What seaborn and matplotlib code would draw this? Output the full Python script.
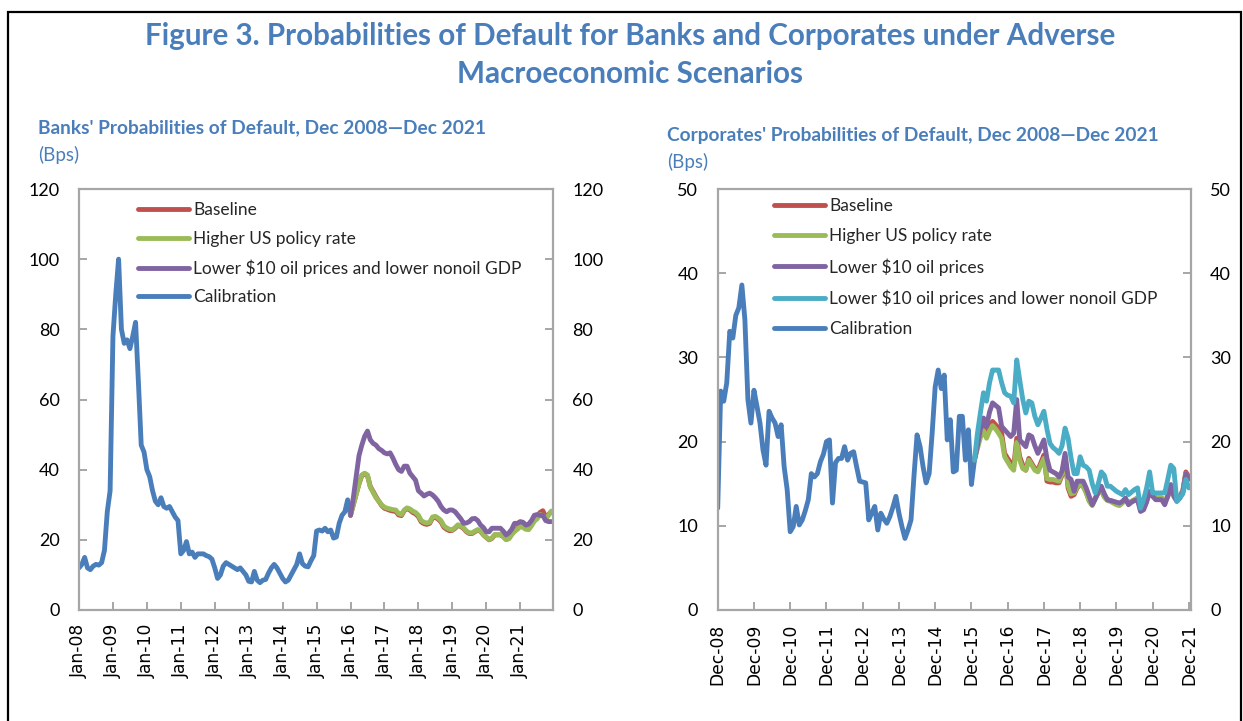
import numpy as np
import pandas as pd
import seaborn as sns
import matplotlib.pyplot as plt
from matplotlib.lines import Line2D
from matplotlib.patches import Rectangle

sns.set_theme(style="white")
plt.rcParams['font.family'] = ['Lato', 'DejaVu Sans']

# ---------------- Banks (monthly, Jan-2008 .. Dec-2021) ----------------
bank_x_labels = ["Jan-08", "Jan-09", "Jan-10", "Jan-11", "Jan-12", "Jan-13", "Jan-14",
                 "Jan-15", "Jan-16", "Jan-17", "Jan-18", "Jan-19", "Jan-20", "Jan-21"]

# Calibration: Jan-2008 .. Jan-2016
bank_calibration = [12, 13, 15, 12, 11.5, 12.5, 13, 12.8, 13.5, 17, 28, 34,
                    78, 90, 100, 80, 76, 77, 74.5, 78, 82, 65, 47, 45,
                    40, 38, 34, 31, 30, 32, 29.5, 29, 29.5, 28, 26.5, 25.5,
                    16, 17, 19.5, 16, 16.5, 15, 16, 16, 16, 15.5, 15.2, 14.5,
                    12, 9, 10, 12.5, 13.5, 13, 12.5, 12, 11.5, 12, 11, 10,
                    8.2, 8, 11, 8.5, 7.8, 8.5, 8.7, 10.5, 12, 13, 12, 10.5,
                    9, 8, 8.5, 10, 11.5, 13, 16, 13.2, 12.5, 12.3, 14, 15.5,
                    22.5, 22.8, 22.5, 23.3, 22.3, 22.8, 20.5, 20.8, 24.7, 27, 28, 31.4,
                    27]

# Scenarios: Jan-2016 .. Dec-2021
bank_higher_us = [27, 30, 33, 36, 38.5, 39, 38.5, 35, 33.5, 32, 31, 30,
                  29.3, 29, 28.8, 28.6, 28.5, 27.5, 27.2, 28.5, 29.1, 28.8, 28.2, 27.8,
                  27, 25.5, 25, 24.8, 25, 26.5, 26.7, 26.2, 25.5, 24, 23.4, 23,
                  22.9, 23.5, 24.3, 24, 23.4, 22.5, 22, 22, 22.5, 22.9, 22.5, 21.5,
                  20.8, 20.1, 20.5, 21.5, 21.5, 21.5, 21, 20.1, 20.3, 21.5, 22.4, 23,
                  23.8, 23.5, 23, 22.9, 24, 25.3, 26, 27.2, 27, 25.8, 27, 28.2]
bank_baseline = [27, 30, 33, 36, 38.3, 38.8, 38.3, 35.2, 33.8, 32.3, 31, 29.8,
                 29, 28.7, 28.4, 28.2, 28.1, 27.1, 26.9, 28.3, 28.9, 28.5, 27.8, 27.4,
                 26.6, 25.1, 24.6, 24.4, 24.7, 26.2, 26.4, 25.9, 25.1, 23.6, 23, 22.6,
                 22.7, 23.3, 24.1, 23.8, 23.2, 22.3, 21.8, 21.8, 22.3, 22.8, 22.4, 21.4,
                 20.7, 20, 20.4, 21.4, 21.4, 21.4, 20.9, 20.1, 20.4, 21.6, 22.5, 23.2,
                 24, 23.8, 23.3, 23.2, 24.3, 25.7, 26.6, 27.8, 28.3, 26.5, 27.2, 28]
bank_oil_nonoil = [27, 32, 38, 44, 47, 49.5, 51, 48.5, 47.5, 47, 46, 45.5,
                   44.8, 44.5, 44.8, 43.3, 41.5, 40, 39.5, 41, 41, 39, 38, 37,
                   34, 33.3, 32.5, 33, 33.3, 32.8, 32, 31, 29.5, 28.5, 28, 28.5,
                   28.5, 28, 27, 26, 24.7, 24.8, 25.2, 26, 26.1, 25.5, 24.2, 23.5,
                   22.3, 22.3, 23.3, 23.3, 23.3, 23.3, 22.5, 21.4, 22, 23, 24.7, 24.7,
                   25.2, 25, 24.2, 24.5, 25.5, 27, 27.2, 27, 27, 25.5, 25.2, 25.2]

# ---------------- Corporates (monthly, Dec-2008 .. Dec-2021) ----------------
corp_x_labels = ["Dec-08", "Dec-09", "Dec-10", "Dec-11", "Dec-12", "Dec-13", "Dec-14",
                 "Dec-15", "Dec-16", "Dec-17", "Dec-18", "Dec-19", "Dec-20", "Dec-21"]

# Calibration: Dec-2008 .. Jan-2016
corp_calibration = [12.1, 26, 24.8, 27, 33.1, 32.3, 35, 35.9, 38.6, 34.5, 25, 22.2,
                    26.1, 24.2, 22.2, 19, 17.2, 23.6, 22.8, 22.2, 20.6, 22, 17, 14.3,
                    9.3, 9.9, 12.3, 10.1, 10.7, 11.8, 13.1, 16.2, 15.8, 16.2, 17.6, 18.5,
                    20, 20.2, 12.7, 17.5, 18, 18, 19.4, 17.8, 18.6, 18.8, 17, 15.3,
                    15.2, 15.1, 10.7, 11.5, 12.3, 9.5, 11.5, 10.8, 10.3, 11.1, 12.2, 13.5,
                    11.5, 9.9, 8.5, 9.5, 10.7, 16, 20.8, 19.4, 17, 15.1, 16.2, 21,
                    26.5, 28.5, 26.3, 27.9, 20.2, 22.6, 16.4, 16.6, 23, 23, 17.8, 21.4,
                    14.9, 17.8]

# Scenarios: Jan-2016 .. Dec-2021
corp_baseline = [17.8, 19.5, 21, 21.8, 20.8, 21.8, 22.4, 22, 21.6, 21, 18.6, 18,
                 17.5, 17, 20.4, 18.2, 17.2, 16.6, 18, 17.4, 16.8, 16.6, 17.5, 18.4,
                 15.3, 15.2, 15.2, 15.1, 15.1, 16, 18.2, 14.5, 13.5, 13.7, 14.5, 14.9,
                 14.7, 14, 13, 12.5, 13.3, 14, 14.3, 13.5, 13.1, 13, 12.9, 12.7,
                 12.5, 12.8, 13.1, 12.7, 12.9, 13.1, 13.3, 11.9, 12.1, 13, 14.1, 13.6,
                 13.3, 13.3, 13.3, 12.9, 13.5, 14.7, 13.8, 13.1, 13.5, 14.2, 16.4, 15.8]
corp_higher_us = [17.8, 19.2, 20.5, 21.3, 20.4, 21.3, 21.9, 21.5, 21, 20.4, 18.2, 17.6,
                  17, 16.6, 19.9, 17.8, 16.8, 16.6, 17.8, 17.2, 16.6, 16.4, 17.2, 18,
                  15.6, 15.5, 15.5, 15.4, 15.3, 16.2, 18, 14.8, 13.8, 13.9, 14.6, 14.9,
                  14.7, 13.9, 12.9, 12.4, 13.2, 13.9, 14.2, 13.4, 13, 12.9, 12.7, 12.5,
                  12.4, 12.7, 13.1, 12.7, 12.9, 13.1, 13.3, 12, 12.2, 13.1, 14.1, 13.6,
                  13.3, 13.3, 13.3, 12.9, 13.5, 14.6, 13.7, 13.1, 13.4, 14.1, 16.2, 15.5]
corp_oil = [17.8, 19.5, 21.5, 22.8, 21.8, 23.5, 24.6, 24.3, 24, 21.8, 21.4, 21,
            20.6, 21, 25, 20.2, 19.8, 19.4, 20.8, 20.6, 19.5, 18.6, 19.4, 20.2,
            18, 16.6, 16.4, 16.2, 15.8, 16.5, 18.6, 15.8, 15.5, 14.1, 15.3, 15.3,
            15.3, 14.5, 13.5, 12.5, 13.2, 14, 14.7, 13.8, 13.1, 13, 12.9, 12.8,
            12.7, 12.9, 13.3, 12.5, 12.8, 13, 13.1, 11.7, 11.9, 12.8, 14.1, 13.5,
            13.1, 13.1, 13.1, 12.5, 13.5, 14.9, 13.5, 12.9, 13.3, 14, 16.2, 15.6]
corp_oil_nonoil = [17.8, 21, 23.5, 25.8, 24.8, 27, 28.5, 28.5, 28.5, 27, 25.8, 25.5,
                   25.4, 24.6, 29.7, 27.3, 25, 23.4, 24.8, 24.6, 23, 22, 22.8, 23.6,
                   21.5, 19.8, 19.3, 19, 18.6, 19.5, 21.6, 20.4, 18, 16.2, 16.2, 18.2,
                   17.2, 17, 16.6, 15, 13.9, 15, 16.4, 16, 14.7, 14.7, 14.4, 14.1,
                   13.9, 13.7, 14.3, 13.7, 14, 14.3, 14.5, 12.1, 13.1, 14.5, 16.4, 13.9,
                   13.9, 13.9, 13.9, 13.9, 15.5, 17.2, 16.8, 12.9, 13.3, 13.8, 15.5, 14.5]

# ---------------- Styling ----------------
C_BASE = "#C0504D"
C_HIGH = "#9BBB59"
C_OIL = "#8064A2"
C_OILNON = "#4BACC6"
C_CAL = "#4A7EBB"
TITLE_C = "#4A7EBB"
SPINE_C = "#A6A6A6"
LW = 3.5

fig = plt.figure(figsize=(12.43, 7.21), dpi=100)
fig.patch.set_facecolor("white")

# outer frame
fig.patches.append(Rectangle((8 / 1243, -0.05), (1241 - 8) / 1243, 1.05 - 12 / 721,
                             transform=fig.transFigure, fill=False,
                             edgecolor="black", linewidth=1.6))

fig.text(0.507, 1 - 36 / 721, "Figure 3. Probabilities of Default for Banks and Corporates under Adverse",
         ha="center", va="center", fontsize=21.3, fontweight="bold", color=TITLE_C)
fig.text(0.507, 1 - 74 / 721, "Macroeconomic Scenarios",
         ha="center", va="center", fontsize=21.3, fontweight="bold", color=TITLE_C)

fig.text(38 / 1243, 1 - 128 / 721, "Banks' Probabilities of Default, Dec 2008\u2014Dec 2021",
         ha="left", va="center", fontsize=13.8, fontweight="bold", color=TITLE_C)
fig.text(38 / 1243, 1 - 155 / 721, "(Bps)", ha="left", va="center", fontsize=13.5, color=TITLE_C)
fig.text(667 / 1243, 1 - 136 / 721, "Corporates' Probabilities of Default, Dec 2008\u2014Dec 2021",
         ha="left", va="center", fontsize=13.8, fontweight="bold", color=TITLE_C)
fig.text(667 / 1243, 1 - 162 / 721, "(Bps)", ha="left", va="center", fontsize=13.5, color=TITLE_C)

ax1 = fig.add_axes([79 / 1243, 111 / 721, 474 / 1243, 421 / 721])
ax2 = fig.add_axes([717.7 / 1243, 111 / 721, 473 / 1243, 421 / 721])


def style_axis(ax, ymax, ystep, labels, xmax):
    ax.set_xlim(0, xmax)
    ax.set_ylim(0, ymax)
    ax.set_yticks(np.arange(0, ymax + 1, ystep))
    ax.set_xticks(np.arange(0, 12 * len(labels), 12))
    ax.set_xticklabels(labels, rotation=90, fontsize=12.3,
                       family=["DejaVu Sans"], color="#000000")
    for s in ax.spines.values():
        s.set_color(SPINE_C)
        s.set_linewidth(1.6)
        s.set_visible(True)
    ax.tick_params(axis="y", which="both", direction="in", length=6, width=1.4,
                   color=SPINE_C, left=True, right=True, labelleft=True,
                   labelright=True, labelsize=13, pad=14, labelcolor="#000000")
    ax.tick_params(axis="x", direction="in", length=6, width=1.4, color=SPINE_C,
                   bottom=True, pad=10)
    ax.set_xlabel("")
    ax.set_ylabel("")
    ax.grid(False)
    ax.set_facecolor("white")


# Banks panel
bx_cal = np.arange(0, len(bank_calibration))
bx_sc = np.arange(len(bank_calibration) - 1, len(bank_calibration) - 1 + len(bank_baseline))
sns.lineplot(x=bx_cal, y=bank_calibration, ax=ax1, color=C_CAL, linewidth=LW)
sns.lineplot(x=bx_sc, y=bank_baseline, ax=ax1, color=C_BASE, linewidth=LW)
sns.lineplot(x=bx_sc, y=bank_higher_us, ax=ax1, color=C_HIGH, linewidth=LW)
sns.lineplot(x=bx_sc, y=bank_oil_nonoil, ax=ax1, color=C_OIL, linewidth=LW)
style_axis(ax1, 120, 20, bank_x_labels, 167.6)

h1 = [Line2D([0], [0], color=c, lw=LW, solid_capstyle="round") for c in [C_BASE, C_HIGH, C_OIL, C_CAL]]
ax1.legend(h1, ["Baseline", "Higher US policy rate",
                "Lower $10 oil prices and lower nonoil GDP", "Calibration"],
           loc="upper left", bbox_to_anchor=(0.125, 0.968), frameon=False,
           fontsize=12.5, handlelength=2.9, handletextpad=0.25, labelspacing=0.72,
           borderaxespad=0, borderpad=0)

# Corporates panel
cx_cal = np.arange(0, len(corp_calibration))
cx_sc = np.arange(len(corp_calibration) - 1, len(corp_calibration) - 1 + len(corp_baseline))
sns.lineplot(x=cx_cal, y=corp_calibration, ax=ax2, color=C_CAL, linewidth=LW)
sns.lineplot(x=cx_sc, y=corp_baseline, ax=ax2, color=C_BASE, linewidth=LW)
sns.lineplot(x=cx_sc, y=corp_higher_us, ax=ax2, color=C_HIGH, linewidth=LW)
sns.lineplot(x=cx_sc, y=corp_oil, ax=ax2, color=C_OIL, linewidth=LW)
sns.lineplot(x=cx_sc, y=corp_oil_nonoil, ax=ax2, color=C_OILNON, linewidth=LW)
style_axis(ax2, 50, 10, corp_x_labels, 156.6)

h2 = [Line2D([0], [0], color=c, lw=LW, solid_capstyle="round")
      for c in [C_BASE, C_HIGH, C_OIL, C_OILNON, C_CAL]]
ax2.legend(h2, ["Baseline", "Higher US policy rate", "Lower $10 oil prices",
                "Lower $10 oil prices and lower nonoil GDP", "Calibration"],
           loc="upper left", bbox_to_anchor=(0.12, 0.978), frameon=False,
           fontsize=12.5, handlelength=2.9, handletextpad=0.25, labelspacing=0.8,
           borderaxespad=0, borderpad=0)

fig.savefig("out.png", dpi=100, facecolor="white")
